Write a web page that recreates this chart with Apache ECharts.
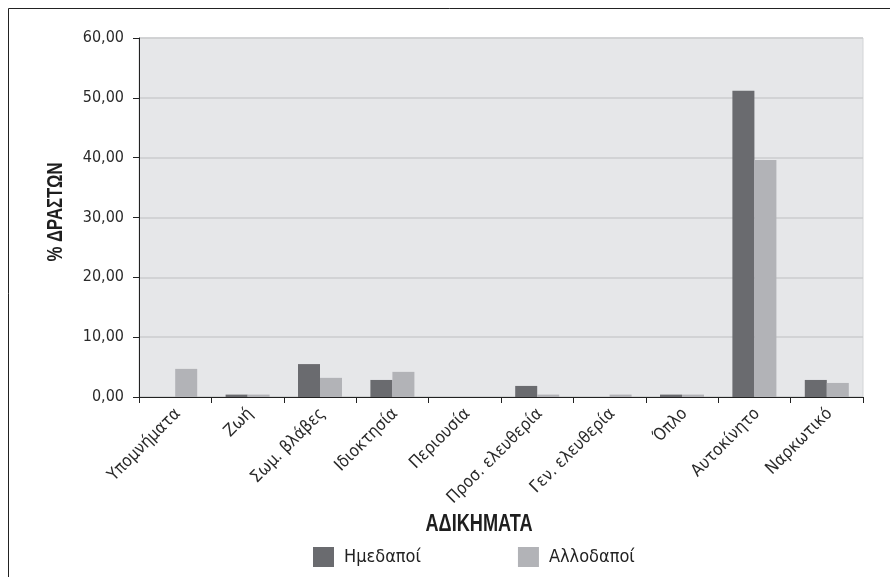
<!DOCTYPE html>
<html>
<head>
<meta charset="utf-8">
<script src="https://cdn.jsdelivr.net/npm/echarts@6/dist/echarts.min.js"></script>
<style>html,body{margin:0;padding:0;background:#fff}#c{width:890px;height:577px}</style>
</head>
<body>
<div id="c"></div>
<script>
var categories = ["Υπομνήματα", "Ζωή", "Σωμ. βλάβες", "Ιδιοκτησία", "Περιουσία", "Προσ. ελευθερία", "Γεν. ελευθερία", "Όπλο", "Αυτοκίνητο", "Ναρκωτικό"];
var domestic = [0, 0.4, 5.5, 2.85, 0, 1.85, 0, 0.4, 51.2, 2.85];
var foreign = [4.7, 0.4, 3.2, 4.2, 0, 0.4, 0.4, 0.4, 39.6, 2.35];
var seriesNames = ["Ημεδαποί", "Αλλοδαποί"];
var xTitle = "ΑΔΙΚΗΜΑΤΑ";
var yTitle = "% ΔΡΑΣΤΩΝ";

var FONT = '"DejaVu Sans Condensed", "Liberation Sans Narrow", sans-serif';
var BOLDFONT = '"Liberation Sans", Arial, sans-serif';
var chart = echarts.init(document.getElementById('c'));
chart.setOption({
  animation: false,
  textStyle: {fontFamily: FONT},
  graphic: [{
    type: 'rect', shape: {x: 8.5, y: 8.5, width: 900, height: 600},
    style: {fill: 'none', stroke: '#222', lineWidth: 1}, z: -10, silent: true
  }, {
    type: 'text', x: 479, y: 525, scaleX: 0.79,
    style: {text: xTitle, font: 'bold 23px ' + BOLDFONT, fill: '#1e1e1e', textAlign: 'center', textVerticalAlign: 'middle'}
  }, {
    type: 'text', x: 56, y: 212, rotation: Math.PI / 2, scaleX: 0.76,
    style: {text: yTitle, font: 'bold 22px ' + BOLDFONT, fill: '#1e1e1e', textAlign: 'center', textVerticalAlign: 'middle'}
  }],
  legend: {
    left: 308, top: 542, itemWidth: 21, itemHeight: 20, itemGap: 97,
    icon: 'rect',
    textStyle: {fontFamily: FONT, fontSize: 18, color: '#222', padding: [0, 0, 0, 5]},
    data: seriesNames
  },
  grid: {left: 139, right: 27, top: 38, bottom: 180, show: true, backgroundColor: '#e6e7e9', borderColor: '#d3d4d6', borderWidth: 1},
  xAxis: {
    type: 'category', data: categories,
    axisLine: {lineStyle: {color: '#222', width: 1}},
    axisTick: {show: true, length: 6, alignWithLabel: false, lineStyle: {color: '#222'}},
    axisLabel: {rotate: 45, fontSize: 17, color: '#2a2a2a', fontFamily: FONT, margin: 17, interval: 0, padding: [0, -4, 0, 0]}
  },
  yAxis: {
    type: 'value', min: 0, max: 60, interval: 10,
    axisLine: {show: true, lineStyle: {color: '#222', width: 1}},
    axisTick: {show: true, length: 6, lineStyle: {color: '#222'}},
    splitLine: {lineStyle: {color: '#cbccce', width: 1.5}},
    axisLabel: {fontSize: 16, color: '#2a2a2a', fontFamily: FONT, margin: 15,
      formatter: function (v) { return v.toFixed(2).replace('.', ','); }}
  },
  series: [
    {name: seriesNames[0], type: 'bar', data: domestic, barWidth: 22, barGap: '0%', itemStyle: {color: '#6a6b6f'}},
    {name: seriesNames[1], type: 'bar', data: foreign, barWidth: 22, barGap: '0%', itemStyle: {color: '#b2b3b7'}}
  ]
});
</script>
</body>
</html>
